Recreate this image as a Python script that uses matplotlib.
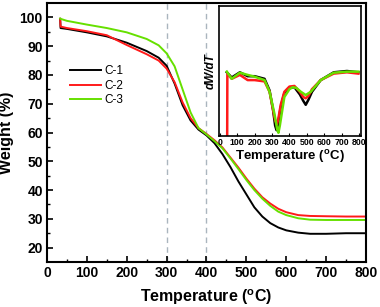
import matplotlib
matplotlib.use("Agg")
import matplotlib.pyplot as plt
import numpy as np

plt.rcParams['font.family'] = ['Liberation Sans', 'DejaVu Sans']

# ---- main TGA data ----
T_c1 = [33, 34, 50, 100, 150, 200, 250, 280, 300, 320, 340, 360, 380, 400, 420, 440, 460,
        480, 500, 520, 540, 560, 580, 600, 630, 660, 700, 750, 800]
W_c1 = [99.5, 96.3, 96.0, 94.8, 93.4, 91.2, 88.3, 86.0, 83.2, 77.0, 69.5, 64.2, 61.0, 59.0,
        56.3, 52.5, 48.0, 43.0, 38.5, 34.0, 30.8, 28.5, 27.0, 26.0, 25.2, 24.8, 24.8, 25.0, 25.0]

T_c2 = [33, 34, 50, 100, 150, 200, 250, 280, 300, 320, 340, 360, 380, 400, 420, 440, 460,
        480, 500, 520, 540, 560, 580, 600, 630, 660, 700, 750, 800]
W_c2 = [99.5, 96.8, 96.3, 95.2, 93.8, 90.4, 87.2, 85.0, 82.2, 77.5, 70.5, 65.0, 61.5, 59.5,
        57.3, 54.8, 51.3, 47.8, 44.0, 40.5, 37.5, 35.3, 33.5, 32.3, 31.3, 31.0, 30.9, 30.8, 30.8]

T_c3 = [33, 34, 50, 100, 150, 200, 250, 280, 300, 320, 340, 360, 380, 400, 420, 440, 460,
        480, 500, 520, 540, 560, 580, 600, 630, 660, 700, 750, 800]
W_c3 = [99.6, 99.5, 98.8, 97.5, 96.3, 94.8, 92.5, 90.3, 87.5, 83.0, 75.0, 67.0, 61.5, 59.3,
        57.0, 54.5, 51.0, 47.3, 43.5, 40.0, 37.0, 34.5, 32.5, 31.3, 30.2, 29.7, 29.6, 29.6, 29.6]

labels = ['C-1', 'C-2', 'C-3']
colors = ['#000000', '#ff1a1a', '#66e000']

# ---- inset DTG data (arbitrary units) ----
Td_c1 = [40, 68, 115, 160, 200, 257, 286, 306, 318, 326, 334, 350, 371, 400, 429, 460, 480,
         494, 510, 530, 580, 655, 731, 797]
D_c1 = [0.49, 0.45, 0.49, 0.46, 0.46, 0.44, 0.35, 0.20, 0.08, 0.045, 0.09, 0.22, 0.33, 0.37,
        0.375, 0.32, 0.27, 0.24, 0.28, 0.34, 0.43, 0.49, 0.50, 0.49]

Td_c2 = [40, 41, 43, 68, 115, 160, 200, 257, 286, 306, 318, 328, 336, 350, 371, 400, 429,
         460, 480, 494, 510, 530, 580, 655, 731, 797]
D_c2 = [-0.6, -0.6, 0.48, 0.44, 0.47, 0.43, 0.43, 0.42, 0.34, 0.20, 0.12, 0.09, 0.13, 0.24,
        0.34, 0.38, 0.385, 0.34, 0.30, 0.29, 0.31, 0.36, 0.43, 0.48, 0.49, 0.48]

Td_c3 = [40, 68, 115, 160, 200, 257, 286, 314, 330, 337, 345, 371, 400, 419, 440, 466, 494,
         523, 580, 655, 731, 797]
D_c3 = [0.495, 0.44, 0.487, 0.47, 0.456, 0.43, 0.34, 0.17, 0.05, 0.025, 0.08, 0.30, 0.36,
        0.375, 0.37, 0.34, 0.315, 0.34, 0.43, 0.487, 0.495, 0.495]

W, H = 380, 307
fig = plt.figure(figsize=(W / 100, H / 100), dpi=100)
ax = fig.add_axes([47 / W, 1 - 262 / H, 319 / W, 259 / H])

for Tx, Wy, lab, c in zip([T_c1, T_c2, T_c3], [W_c1, W_c2, W_c3], labels, colors):
    ax.plot(Tx, Wy, color=c, lw=1.4, label=lab)

for xv in [300, 400]:
    ax.axvline(xv, color='#aab5be', lw=1.0, ls=(0, (4, 3)), zorder=0)

ax.set_xlim(0, 800)
ax.set_ylim(15, 105)
ax.set_xticks(np.arange(0, 801, 100))
ax.set_yticks(np.arange(20, 101, 10))
ax.set_xticks(np.arange(50, 800, 100), minor=True)
ax.set_yticks(np.arange(25, 101, 10), minor=True)
ax.tick_params(which='major', direction='in', length=4, width=1.2, labelsize=10,
               top=False, right=False, pad=3)
ax.tick_params(which='minor', direction='in', length=2, width=1.0, top=False, right=False)
for lbl in ax.get_xticklabels() + ax.get_yticklabels():
    lbl.set_fontweight('bold')
for s in ax.spines.values():
    s.set_linewidth(1.5)

ax.set_xlabel('Temperature ($\\mathregular{^o}$C)', fontsize=11.5, fontweight='bold', labelpad=5)
ax.set_ylabel('Weight (%)', fontsize=11.5, fontweight='bold', labelpad=4)

leg = ax.legend(loc='upper left', bbox_to_anchor=(0.04, 0.80), frameon=False,
                fontsize=8.5, handlelength=2.6, handletextpad=0.3, labelspacing=0.2)

# ---- inset ----
axi = fig.add_axes([219 / W, 1 - 136 / H, 142 / W, 130 / H])
for Tx, Dy, c in zip([Td_c1, Td_c2, Td_c3], [D_c1, D_c2, D_c3], colors):
    axi.plot(Tx, Dy, color=c, lw=1.8)
axi.set_xlim(-5, 812)
axi.set_ylim(0, 1)
axi.set_yticks([])
axi.set_xticks(np.arange(0, 801, 100))
axi.tick_params(axis='x', direction='in', length=2, labelsize=6.3, pad=1.5)
for lbl in axi.get_xticklabels():
    lbl.set_fontweight('bold')
for s in axi.spines.values():
    s.set_linewidth(1.2)
axi.set_xlabel('Temperature ($\\mathregular{^o}$C)', fontsize=9.5, fontweight='bold', labelpad=1)
axi.set_ylabel('dW/dT', fontsize=8.5, fontweight='bold', style='italic', labelpad=2)

fig.savefig('out.png', dpi=100)
